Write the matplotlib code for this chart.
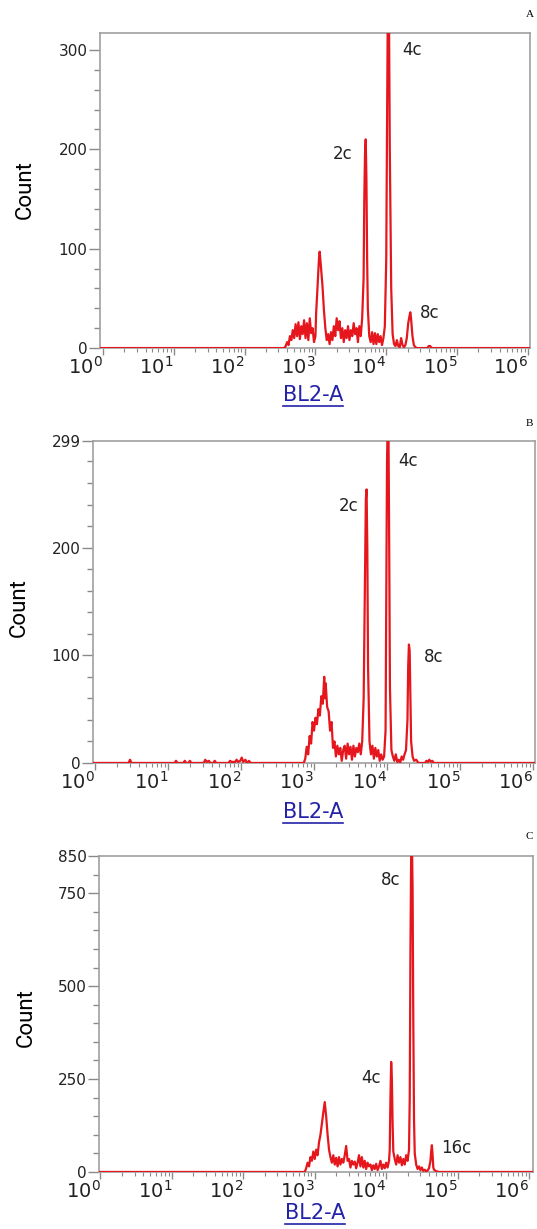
import numpy as np
import matplotlib.pyplot as plt
from matplotlib.ticker import MultipleLocator, LogLocator, NullFormatter
from matplotlib.lines import Line2D

# panel A : log10(BL2-A) and counts
a_logx = [-0.1, 2.56, 2.58, 2.60, 2.62, 2.64, 2.66, 2.68, 2.70, 2.72, 2.74, 2.76, 2.78, 2.80,
          2.82, 2.84, 2.86, 2.88, 2.90, 2.92, 2.94, 2.96, 2.98, 3.00, 3.01, 3.03, 3.05, 3.06,
          3.08, 3.10, 3.12, 3.14, 3.16, 3.18, 3.20, 3.22, 3.24, 3.26, 3.28, 3.30, 3.32, 3.34,
          3.36, 3.38, 3.40, 3.42, 3.44, 3.46, 3.48, 3.50, 3.52, 3.54, 3.56, 3.58, 3.60, 3.62,
          3.64, 3.66, 3.68, 3.69, 3.70, 3.71, 3.72, 3.73, 3.74, 3.76, 3.78, 3.80, 3.82, 3.84,
          3.86, 3.88, 3.90, 3.92, 3.94, 3.96, 3.98, 4.00, 4.01, 4.02, 4.03, 4.04, 4.05, 4.07,
          4.09, 4.11, 4.13, 4.15, 4.17, 4.19, 4.21, 4.23, 4.25, 4.27, 4.29, 4.31, 4.33, 4.34,
          4.35, 4.37, 4.39, 4.41, 4.43, 4.58, 4.60, 4.62, 4.64, 6.2]
a_count = [0, 0, 2, 6, 3, 12, 8, 18, 10, 24, 12, 26, 9, 22,
           14, 28, 10, 25, 8, 30, 15, 20, 6, 12, 35, 62, 90, 97,
           80, 62, 38, 20, 8, 14, 4, 16, 8, 22, 12, 30, 18, 27,
           10, 20, 6, 18, 10, 22, 8, 18, 12, 25, 14, 20, 6, 22,
           12, 30, 70, 150, 195, 210, 170, 90, 40, 12, 6, 16, 4, 15,
           4, 14, 6, 12, 3, 10, 22, 90, 210, 320, 330, 320, 200, 60,
           14, 4, 2, 8, 2, 1, 10, 3, 1, 3, 10, 25, 33, 36,
           30, 12, 3, 1, 0, 0, 2, 2, 0, 0]

# panel B
b_logx = [-0.1, 0.46, 0.48, 0.50, 1.09, 1.11, 1.13, 1.21, 1.23, 1.25, 1.28, 1.30, 1.32,
          1.49, 1.51, 1.53, 1.56, 1.58, 1.62, 1.64, 1.66, 1.83, 1.85, 1.87, 1.92, 1.94,
          1.96, 1.99, 2.01, 2.03, 2.06, 2.08, 2.11, 2.13, 2.86, 2.88, 2.90, 2.92, 2.94,
          2.96, 2.98, 3.00, 3.02, 3.04, 3.06, 3.08, 3.10, 3.12, 3.14, 3.15, 3.16, 3.18,
          3.20, 3.22, 3.24, 3.26, 3.28, 3.30, 3.32, 3.34, 3.36, 3.38, 3.40, 3.42, 3.44,
          3.46, 3.48, 3.50, 3.52, 3.54, 3.56, 3.58, 3.60, 3.62, 3.64, 3.66, 3.68, 3.70,
          3.71, 3.72, 3.73, 3.74, 3.76, 3.78, 3.80, 3.82, 3.84, 3.86, 3.88, 3.90, 3.92,
          3.94, 3.96, 3.98, 3.99, 4.00, 4.01, 4.02, 4.03, 4.04, 4.06, 4.08, 4.10, 4.12,
          4.14, 4.16, 4.18, 4.20, 4.22, 4.24, 4.26, 4.28, 4.29, 4.30, 4.31, 4.32, 4.33,
          4.35, 4.37, 4.40, 4.43, 4.52, 4.54, 4.56, 4.58, 4.60, 4.62, 4.64, 6.2]
b_count = [0, 0, 3, 0, 0, 2, 0, 0, 2, 0, 0, 2, 0,
           0, 3, 1, 2, 0, 0, 2, 0, 0, 2, 1, 1, 3,
           1, 2, 5, 1, 3, 0, 2, 0, 0, 4, 15, 8, 25,
           18, 38, 30, 42, 36, 50, 44, 62, 55, 80, 60, 74, 52,
           48, 30, 38, 14, 20, 6, 16, 8, 14, 2, 12, 16, 4,
           18, 8, 15, 3, 16, 6, 14, 10, 18, 8, 20, 60, 180,
           245, 254, 200, 90, 20, 8, 16, 4, 14, 6, 12, 2, 8,
           3, 6, 30, 150, 280, 320, 310, 200, 70, 12, 6, 2, 8,
           1, 3, 0, 6, 3, 8, 12, 40, 90, 110, 104, 60, 20,
           6, 2, 3, 0, 0, 2, 1, 3, 1, 2, 0, 0]

# panel C
c_logx = [-0.1, 2.86, 2.88, 2.90, 2.92, 2.94, 2.96, 2.98, 3.00, 3.02, 3.04, 3.06, 3.08,
          3.10, 3.12, 3.14, 3.16, 3.18, 3.20, 3.22, 3.24, 3.26, 3.28, 3.30, 3.32, 3.34,
          3.36, 3.38, 3.40, 3.42, 3.44, 3.46, 3.48, 3.50, 3.52, 3.54, 3.56, 3.58, 3.60,
          3.62, 3.64, 3.66, 3.68, 3.70, 3.72, 3.74, 3.76, 3.78, 3.80, 3.82, 3.84, 3.86,
          3.88, 3.90, 3.92, 3.94, 3.96, 3.98, 4.00, 4.02, 4.04, 4.05, 4.06, 4.07, 4.08,
          4.09, 4.10, 4.12, 4.14, 4.16, 4.18, 4.20, 4.22, 4.24, 4.26, 4.28, 4.30, 4.32,
          4.33, 4.34, 4.35, 4.36, 4.37, 4.38, 4.39, 4.40, 4.42, 4.44, 4.46, 4.48, 4.50,
          4.52, 4.54, 4.56, 4.58, 4.60, 4.62, 4.63, 4.64, 4.65, 4.66, 4.67, 4.70, 4.74, 6.2]
c_count = [0, 0, 10, 25, 15, 40, 30, 55, 35, 60, 45, 80, 100,
           130, 160, 188, 150, 100, 60, 40, 25, 45, 20, 38, 15, 40,
           20, 35, 25, 45, 70, 30, 35, 12, 30, 20, 28, 10, 25,
           45, 15, 40, 12, 30, 8, 25, 15, 20, 5, 18, 8, 22,
           5, 15, 30, 8, 20, 10, 25, 12, 30, 60, 200, 296, 250,
           130, 55, 35, 20, 45, 25, 40, 18, 35, 20, 45, 30, 60,
           200, 600, 860, 900, 760, 400, 140, 50, 20, 8, 15, 5, 12,
           3, 6, 2, 4, 10, 30, 55, 72, 45, 12, 6, 2, 0, 0]

panel_letters = ['A', 'B', 'C']
y_ticks = [[0, 100, 200, 300], [0, 100, 200, 299], [0, 250, 500, 750, 850]]
peak_labels = [[('2c', 3.38, 195), ('4c', 4.36, 300), ('8c', 4.61, 35)],
               [('2c', 3.47, 239), ('4c', 4.29, 280), ('8c', 4.64, 98)],
               [('8c', 4.07, 785), ('4c', 3.79, 253), ('16c', 4.98, 65)]]

# layout (figure fractions) and per panel scales
rects = [[0.1862, 0.7168, 0.8008, 0.2563],
         [0.1732, 0.3792, 0.8231, 0.2620],
         [0.1844, 0.0464, 0.8082, 0.2571]]
ytops = [317, 299, 850]
yminor = [20, 20, 50]
xlims = [(-0.042, 6.03), (-0.027, 6.027), (-0.02, 6.056)]
count_pos = [(0.047, 0.8454), (0.035, 0.506), (0.048, 0.172)]
xlabel_pos = [(0.583, 0.6786), (0.583, 0.3393), (0.587, 0.0130)]
letter_pos = [(0.986, 0.9886), (0.986, 0.6558), (0.986, 0.3190)]

fig = plt.figure(figsize=(5.37, 12.29), dpi=100, facecolor='white')
xs = [a_logx, b_logx, c_logx]
ys = [a_count, b_count, c_count]
xlabels = []

for i in range(3):
    ax = fig.add_axes(rects[i])
    ax.plot(10 ** np.array(xs[i]), ys[i], color='#e5161c', lw=1.6, zorder=3)
    ax.set_xscale('log')
    ax.set_xlim(10 ** xlims[i][0], 10 ** xlims[i][1])
    ax.set_ylim(0, ytops[i])
    ax.set_yticks(y_ticks[i])
    ax.set_yticklabels([str(v) for v in y_ticks[i]], fontsize=11, color='#222222')
    ax.yaxis.set_minor_locator(MultipleLocator(yminor[i]))
    ax.set_xticks([10 ** k for k in range(7)])
    ax.set_xticklabels(['$10^{%d}$' % k for k in range(7)], fontsize=14,
                       color='#222222', ha='right')
    ax.xaxis.set_minor_locator(LogLocator(base=10, subs=np.arange(2, 10), numticks=30))
    ax.xaxis.set_minor_formatter(NullFormatter())
    ax.tick_params(axis='y', which='major', length=8, width=1, color='#8a8a8a', pad=1)
    ax.tick_params(axis='y', which='minor', length=4, width=1, color='#8a8a8a')
    ax.tick_params(axis='x', which='major', length=5, width=1, color='#8a8a8a', pad=1)
    ax.tick_params(axis='x', which='minor', length=3, width=0.8, color='#8a8a8a')
    for s in ax.spines.values():
        s.set_color('#a0a0a0')
        s.set_linewidth(1.2)
    for txt, lx, yv in peak_labels[i]:
        ax.text(10 ** lx, yv, txt, fontsize=12, color='#222222', ha='center', va='center')

    fig.text(count_pos[i][0], count_pos[i][1], 'Count', rotation=90, fontsize=16,
             family='Roboto', ha='center', va='center')
    t = fig.text(xlabel_pos[i][0], xlabel_pos[i][1], 'BL2-A', fontsize=15, color='#2323a8',
                 ha='center', va='center')
    xlabels.append(t)
    fig.text(letter_pos[i][0], letter_pos[i][1], panel_letters[i], fontsize=8,
             family='Liberation Serif', ha='center', va='center')

# underline the axis titles
fig.canvas.draw()
r = fig.canvas.get_renderer()
inv = fig.transFigure.inverted()
for t in xlabels:
    bb = t.get_window_extent(renderer=r)
    (x0, y0), (x1, _) = inv.transform([[bb.x0, bb.y0 - 1], [bb.x1, bb.y0]])
    fig.add_artist(Line2D([x0, x1], [y0, y0], transform=fig.transFigure,
                          color='#2323a8', lw=1.2))

plt.savefig('out.png', dpi=100)
